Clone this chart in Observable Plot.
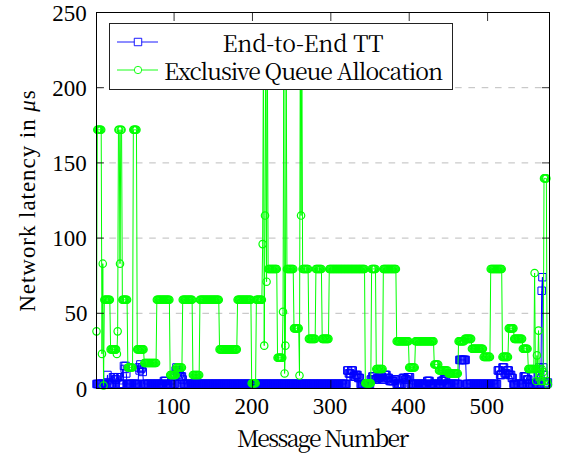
<!DOCTYPE html>
<html><head><meta charset="utf-8">
<script src="https://cdn.jsdelivr.net/npm/d3@7"></script>
<script src="https://cdn.jsdelivr.net/npm/@observablehq/plot@0.6"></script>
<style>
body{margin:0;background:#fff;}
#wrap{position:relative;width:563px;height:456px;color:#000;}
#wrap svg{display:block;}
.lbl{position:absolute;white-space:nowrap;color:#000;}
#legend{position:absolute;left:109px;top:23px;width:344px;height:67px;border:1px solid #222;background:#fff;box-sizing:border-box;}
</style></head><body><div id="wrap"></div>
<script>
const seriesNames = ["End-to-End TT", "Exclusive Queue Allocation"];
const seriesColors = ["#0000ff", "#00ff00"];
const xTicks = [100, 200, 300, 400, 500];
const yTicks = [0, 50, 100, 150, 200, 250];
const xTitle = "Message Number";
const yTitle = "Network latency in ";

// runs of [first message, last message, latency]
const blueRuns = [[1,14,3],[15,15,9],[16,21,3],[22,24,7.5],[25,26,6],[27,29,7.5],[30,35,3],[36,36,15],[37,37,13],[38,38,15],[39,39,10],[40,54,3],[55,55,14],[56,56,12],[57,57,16],[58,58,13],[59,59,14],[60,60,11],[61,86,3],[87,89,5],[90,101,3],[102,102,12],[103,103,14],[104,104,11],[105,105,9],[106,106,12],[107,107,10],[108,110,8],[111,111,6],[112,320,3],[321,322,12],[323,325,10],[326,328,12],[329,331,8],[332,334,9],[335,337,7],[338,350,3],[351,352,6],[353,355,8],[356,358,6],[359,362,7],[363,365,8],[366,368,6],[369,371,9],[372,374,7],[375,380,5],[381,383,6],[384,391,3],[392,394,7],[395,397,6],[398,401,7.5],[402,422,3],[423,426,5],[427,440,3],[441,443,5],[444,447,6],[448,463,3],[464,472,19],[473,512,3],[513,515,12],[516,518,9],[519,521,14],[522,524,10],[525,527,12],[528,530,9],[531,532,7],[533,545,3],[546,549,8],[550,552,6],[553,563,3],[564,565,9],[566,566,14],[567,567,5],[568,568,3],[569,569,65],[570,570,74],[571,571,14],[572,572,9],[573,576,3],[577,577,4]];

const greenRuns = [[1,1,38],[2,7,172],[8,8,23],[9,9,83],[10,10,2],[11,18,59],[19,26,26],[27,27,23],[28,28,38],[29,30,172],[31,31,83],[32,33,172],[34,40,59],[41,47,14],[48,52,172],[53,61,26],[62,77,17],[78,94,59],[95,102,9],[103,110,14],[111,123,59],[124,132,9],[133,157,59],[158,180,26],[181,198,59],[199,204,3.5],[205,212,59],[213,213,96],[214,214,230],[215,215,28.5],[216,216,115],[217,217,230],[218,218,71],[219,219,230],[220,231,79.5],[232,238,20.4],[239,239,51],[240,240,230],[241,241,10],[242,242,28.5],[243,243,230],[244,252,79.5],[253,259,40],[260,260,8.6],[261,261,230],[262,262,115],[263,263,230],[264,271,79.5],[272,280,33],[281,288,79.5],[289,297,33],[298,343,79.5],[344,351,3.5],[352,357,79.5],[358,366,13],[367,383,79.5],[384,399,31.4],[400,407,14],[408,431,31.4],[432,437,16],[438,449,12],[450,462,10],[463,470,31.4],[471,479,33],[480,494,26.4],[495,503,21],[504,518,79.5],[519,526,21],[527,533,40],[534,544,33],[545,551,26.4],[552,559,13],[560,560,76.8],[561,561,13],[562,562,5],[563,563,22],[564,564,13],[565,565,38.5],[566,566,13],[567,567,11],[568,568,5],[569,569,13],[570,570,5],[571,571,11],[572,575,139.7],[576,576,5],[577,577,2.7]];

function expand(runs) {
  const out = [];
  for (const [s, e, v] of runs) for (let m = s; m <= e; m++) out.push({m, v});
  return out;
}
const blue = expand(blueRuns);
const green = expand(greenRuns);

const W = 563, H = 456, ML = 96, MR = 14, MT = 12, MB = 68;
const FS = 23;
const FONT_A = "\"Liberation Serif\", cursive";
const FONT_C = "\"Noto Serif CJK SC\", \"Liberation Serif\", cursive";
const noText = () => "";

const plot = Plot.plot({
  width: W, height: H,
  marginLeft: ML, marginRight: MR, marginTop: MT, marginBottom: MB,
  x: {domain: [1, 579]},
  y: {domain: [0, 250]},
  style: {background: "white", color: "black"},
  marks: [
    Plot.gridY(yTicks.filter(t => t > 0 && t < 250), {stroke: "#bdbdbd", strokeOpacity: 1, strokeDasharray: "6.6,6.7", strokeWidth: 1}),
    Plot.line(blue, {x: "m", y: "v", stroke: seriesColors[0], strokeWidth: 1, clip: true}),
    Plot.dot(blue.filter(d => d.v <= 250), {x: "m", y: "v", symbol: "square", r: 4.2, fill: "none", stroke: seriesColors[0], strokeWidth: 1}),
    Plot.line(green, {x: "m", y: "v", stroke: seriesColors[1], strokeWidth: 1, clip: true}),
    Plot.dot(green.filter(d => d.v <= 250), {x: "m", y: "v", symbol: "circle", r: 3.7, fill: "none", stroke: seriesColors[1], strokeWidth: 1.2}),
    Plot.frame({stroke: "black", strokeWidth: 1}),
    Plot.axisX(xTicks, {anchor: "bottom", tickSize: -8, tickFormat: noText, label: null, strokeWidth: 0.8}),
    Plot.axisX(xTicks, {anchor: "top", tickSize: -8, tickFormat: noText, label: null, strokeWidth: 0.8}),
    Plot.axisY(yTicks, {anchor: "left", tickSize: -8, tickFormat: noText, label: null, strokeWidth: 0.8}),
    Plot.axisY(yTicks, {anchor: "right", tickSize: -8, tickFormat: noText, label: null, strokeWidth: 0.8})
  ]
});

const wrap = document.getElementById("wrap");
wrap.appendChild(plot);
const sx = plot.scale("x"), sy = plot.scale("y");

// mode "A": Liberation Serif at full size; "S": Liberation Serif at 18px scaled up; "C": Noto Serif CJK
function label(text, mode, parent = wrap) {
  const d = document.createElement("div");
  d.className = "lbl";
  d.textContent = text;
  if (mode === "S") {
    d.style.fontFamily = FONT_A;
    d.style.fontSize = "18px";
    d.style.lineHeight = "18px";
  } else {
    d.style.fontFamily = mode === "C" ? FONT_C : FONT_A;
    d.style.fontSize = FS + "px";
    d.style.lineHeight = FS + "px";
  }
  parent.appendChild(d);
  return d;
}
function place(d, cx, cy, mode, rotate = 0) {
  const r = d.getBoundingClientRect();
  const k = mode === "S" ? FS / 18 : 1;
  d.style.left = (cx - d.offsetWidth / 2) + "px";
  d.style.top = (cy - d.offsetHeight / 2) + "px";
  const tf = [];
  if (rotate) tf.push(`rotate(${rotate}deg)`);
  if (k !== 1) tf.push(`scale(${k})`);
  d.style.transformOrigin = "50% 50%";
  d.style.transform = tf.join(" ");
}
function fitWidth(d, target, mode) {
  const k = mode === "S" ? FS / 18 : 1;
  const n = d.textContent.length;
  const w = d.offsetWidth * k;
  if (n > 1) d.style.letterSpacing = (((target - w) / (n - 1)) / k).toFixed(2) + "px";
}

// tick labels (positions from Plot's scales); text visual centre ~1px above box centre
for (const t of xTicks) {
  const d = label(String(t), "A");
  place(d, sx.apply(t), H - MB + 18.5, "A");
}
for (const t of yTicks) {
  const d = label(String(t), "S");
  const k = FS / 18;
  place(d, ML - 9 - d.offsetWidth * k / 2, sy.apply(t) + 0.5, "S");
}

// axis titles
const xt = label(xTitle, "C");
fitWidth(xt, 172, "C");
place(xt, ML + (W - ML - MR) / 2, 437, "C");

const yt = label(yTitle, "A");
const mu = document.createElement("i");
mu.textContent = "μ";
mu.style.fontFamily = FONT_A;
mu.style.fontStyle = "italic";
yt.append(mu, "s");
fitWidth(yt, 222, "A");
place(yt, 27.2, MT + (H - MT - MB) / 2, "A", -90);

// legend
const leg = document.createElement("div");
leg.id = "legend";
wrap.appendChild(leg);
const ls = d3.select(leg).append("svg").attr("width", 342).attr("height", 65)
  .style("position", "absolute").style("left", 0).style("top", 0);
const rowsY = [18, 46];
const rowW = [161, 279];
const symbols = [d3.symbolSquare, d3.symbolCircle];
const symSize = [Math.PI * 4.2 * 4.2, Math.PI * 3.7 * 3.7];
seriesNames.forEach((name, i) => {
  const g = ls.append("g").attr("transform", `translate(0,${rowsY[i]})`);
  g.append("line").attr("x1", 7).attr("x2", 48).attr("y1", 0).attr("y2", 0)
    .attr("stroke", seriesColors[i]).attr("stroke-width", 0.9);
  g.append("path").attr("d", d3.symbol(symbols[i], symSize[i])())
    .attr("transform", "translate(28,0)")
    .attr("fill", "white").attr("stroke", seriesColors[i]).attr("stroke-width", 0.9);
  const d = label(name, "C", leg);
  fitWidth(d, rowW[i], "C");
  place(d, 193, rowsY[i] + 0.5, "C");
});
</script>
</body></html>
